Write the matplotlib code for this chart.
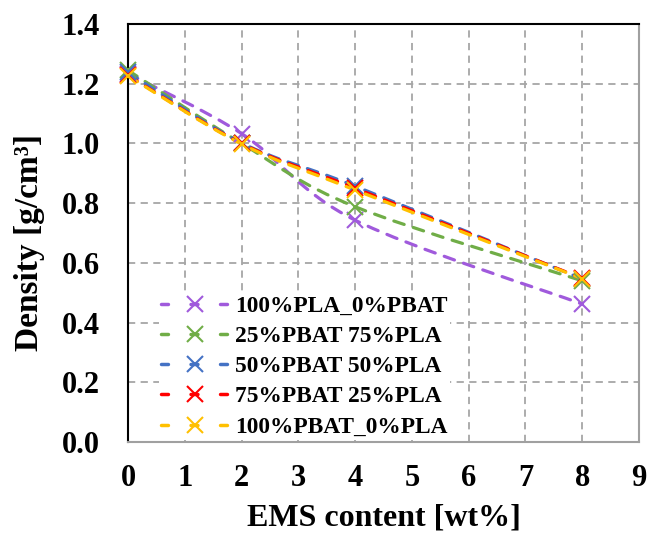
import matplotlib
matplotlib.use("Agg")
import matplotlib.pyplot as plt
from matplotlib.path import Path
from matplotlib.patches import PathPatch
from matplotlib.lines import Line2D

ems = [0, 2, 4, 8]
pla100 = [1.234, 1.033, 0.743, 0.462]
pbat25 = [1.245, 1.000, 0.788, 0.540]
pbat50 = [1.238, 1.002, 0.857, 0.546]
pbat75 = [1.228, 1.000, 0.850, 0.548]
pbat100 = [1.226, 0.998, 0.844, 0.547]

labels = ["100%PLA_0%PBAT", "25%PBAT 75%PLA", "50%PBAT 50%PLA",
          "75%PBAT 25%PLA", "100%PBAT_0%PLA"]
colors = ["#A05ADC", "#70AD47", "#4472C4", "#FF0000", "#FFC000"]
series = [pla100, pbat25, pbat50, pbat75, pbat100]

xticks = [0, 1, 2, 3, 4, 5, 6, 7, 8, 9]
yticks = [0.0, 0.2, 0.4, 0.6, 0.8, 1.0, 1.2, 1.4]

FONT = "Liberation Serif"

fig = plt.figure(figsize=(6.49, 5.34), dpi=100)
ax = fig.add_axes([128/649, 92/534, 511/649, 418/534])


def smooth_path(xs, ys):
    pts = list(zip(xs, ys))
    n = len(pts)
    verts = [pts[0]]
    codes = [Path.MOVETO]
    for i in range(n - 1):
        p0 = pts[i - 1] if i > 0 else pts[i]
        p1 = pts[i]
        p2 = pts[i + 1]
        p3 = pts[i + 2] if i + 2 < n else pts[i + 1]
        c1 = (p1[0] + (p2[0] - p0[0]) / 6, p1[1] + (p2[1] - p0[1]) / 6)
        c2 = (p2[0] - (p3[0] - p1[0]) / 6, p2[1] - (p3[1] - p1[1]) / 6)
        verts += [c1, c2, p2]
        codes += [Path.CURVE4] * 3
    return Path(verts, codes)


handles = []
for ys, c, lab in zip(series, colors, labels):
    patch = PathPatch(smooth_path(ems, ys), fill=False, edgecolor=c, lw=2.3,
                      linestyle=(0, (3.4, 3.0)), capstyle="round", zorder=3)
    ax.add_patch(patch)
    ax.plot(ems, ys, linestyle="none", marker="x", markersize=11,
            markeredgewidth=1.5, color=c, zorder=4, clip_on=False)
    handles.append(Line2D([], [], color=c, lw=2.5, linestyle=(0, (2, 6.5)),
                          marker="x", markersize=11, markeredgewidth=1.5,
                          dash_capstyle="round"))

ax.set_xlim(0, 9)
ax.set_ylim(0, 1.4)
ax.set_xticks(xticks)
ax.set_yticks(yticks)
ax.set_xticklabels([str(t) for t in xticks])
ax.set_yticklabels([f"{t:.1f}" for t in yticks])
ax.tick_params(axis="y", length=0, pad=20)
ax.tick_params(axis="x", length=0, pad=16)
for lab in ax.get_xticklabels() + ax.get_yticklabels():
    lab.set_fontfamily(FONT)
    lab.set_fontweight("bold")
    lab.set_fontsize(22)

ax.grid(True, color="#A6A6A6", linestyle=(0, (4, 3)), lw=1.3)
ax.set_axisbelow(True)
ax.spines["left"].set_color("black")
ax.spines["left"].set_linewidth(1.5)
ax.spines["top"].set_color("black")
ax.spines["top"].set_linewidth(1.5)
ax.spines["right"].set_color("#A0A0A0")
ax.spines["right"].set_linewidth(1.5)
ax.spines["bottom"].set_color("#A0A0A0")
ax.spines["bottom"].set_linewidth(1.5)

ax.set_xlabel("EMS content [wt%]", fontfamily=FONT, fontweight="bold",
              fontsize=23)
ax.set_ylabel("Density [g/cm³]", fontfamily=FONT,
              fontweight="bold", fontsize=24)
ax.xaxis.set_label_coords(0.5, -0.148)
ax.yaxis.set_label_coords(-0.162, 0.478)

leg = ax.legend(handles, labels, loc="lower left",
                bbox_to_anchor=(31/511, 2/418), frameon=True,
                prop={"family": FONT, "weight": "bold", "size": 16.8},
                handlelength=2.85, handletextpad=0.3, labelspacing=0.38,
                borderpad=0.1, borderaxespad=0)
leg.get_frame().set_edgecolor("none")
leg.get_frame().set_facecolor("white")
leg.get_frame().set_alpha(1)

fig.savefig("out.png", dpi=100)
